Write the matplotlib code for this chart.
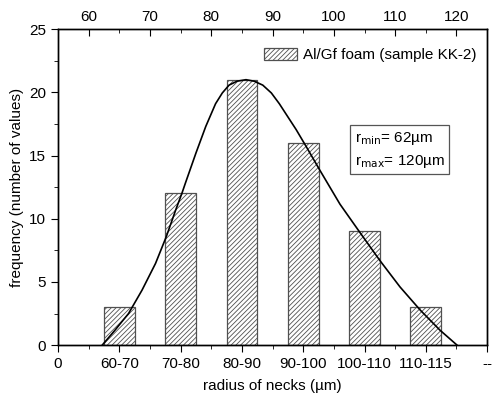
import matplotlib
matplotlib.use("Agg")
import matplotlib.pyplot as plt

plt.rcParams['font.family'] = ['Liberation Sans', 'DejaVu Sans']
plt.rcParams['hatch.color'] = '#a0a0a0'
plt.rcParams['hatch.linewidth'] = 0.6

# histogram of neck radii
categories = ['60-70', '70-80', '80-90', '90-100', '100-110', '110-115']
counts = [3, 12, 21, 16, 9, 3]
bottom_labels = ['0'] + categories + ['--']

# fitted distribution curve (radius in µm, frequency)
curve_r = [62.2, 64.3, 66.5, 68.7, 70.9, 72.65, 74.2, 75.2, 75.8, 77.5, 79.1,
           80.7, 81.8, 82.9, 84.2, 85.66, 87.0, 88.4, 89.8, 91.1, 93.85, 95.5,
           97.7, 101.0, 104.2, 107.5, 110.8, 114.1, 117.3, 120.1]
curve_f = [0.0, 1.19, 2.5, 4.35, 6.46, 8.57, 10.7, 12.0, 12.85, 15.2, 17.3,
           19.1, 19.95, 20.57, 20.88, 21.0, 20.88, 20.57, 19.95, 19.1, 17.05,
           15.7, 13.85, 11.15, 8.95, 6.7, 4.6, 2.77, 1.19, 0.0]

top_ticks = [60, 70, 80, 90, 100, 110, 120]
fs = 11

fig = plt.figure(figsize=(4.92, 3.99), dpi=100)
ax = fig.add_axes([0.118, 0.135, 0.872, 0.792])

pos = list(range(1, len(categories) + 1))
ax.bar(pos, counts, width=0.5, color='white', edgecolor='#505050',
       linewidth=0.9, hatch='///////', label='Al/Gf foam (sample KK-2)')

ax.set_xlim(0, 7)
ax.set_ylim(0, 25)
ax.set_xticks(range(8))
ax.set_xticklabels(bottom_labels)
ax.set_xticks([i + 0.5 for i in range(7)], minor=True)
ax.set_yticks([0, 5, 10, 15, 20, 25])
ax.set_yticks([2.5, 7.5, 12.5, 17.5, 22.5], minor=True)
ax.tick_params(which='both', direction='out', labelsize=fs, right=False, top=False)
ax.tick_params(which='major', length=5)
ax.tick_params(which='minor', length=3)
ax.set_xlabel('radius of necks (µm)', fontsize=fs, labelpad=6)
ax.set_ylabel('frequency (number of values)', fontsize=fs)

# top axis in µm carries the curve
ax2 = ax.twiny()
ax2.set_xlim(55, 125)
ax2.set_xticks(top_ticks)
ax2.set_xticks([65, 75, 85, 95, 105, 115], minor=True)
ax2.tick_params(which='both', direction='in', labelsize=fs)
ax2.tick_params(which='major', length=5)
ax2.tick_params(which='minor', length=3)
ax2.plot(curve_r, curve_f, color='black', lw=1.2)

for a in (ax, ax2):
    for s in a.spines.values():
        s.set_linewidth(1.0)

ax.legend(loc='upper left', bbox_to_anchor=(0.48, 0.94), frameon=False,
          fontsize=fs, handlelength=2.15, handleheight=0.85, handletextpad=0.4,
          borderpad=0, borderaxespad=0)

ax.text(0.691, 0.682, 'r$_{\\rm min}$= 62µm\nr$_{\\rm max}$= 120µm',
        transform=ax.transAxes, fontsize=fs, va='top', ha='left',
        linespacing=1.5,
        bbox=dict(boxstyle='square,pad=0.3', fc='white', ec='#555555', lw=0.9))

fig.savefig('out.png', dpi=100)
